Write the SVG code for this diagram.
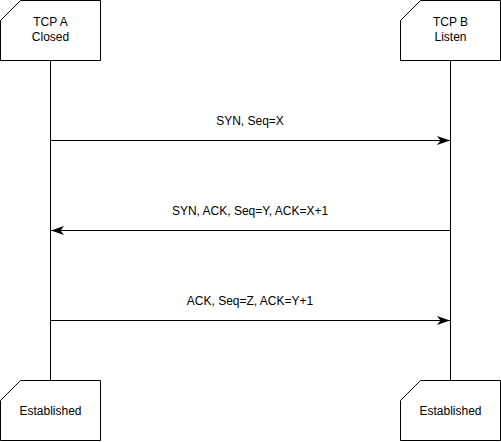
<svg xmlns="http://www.w3.org/2000/svg" width="501" height="442" viewBox="0 0 501 442">
<style>
.card{fill:#fff;stroke:#000;stroke-width:1}
.t{font-family:"Liberation Sans",Arial,sans-serif;font-size:12px;fill:#000;text-anchor:middle}
.ln{stroke:#000;stroke-width:1;fill:none}
</style>
<defs>
<marker id="ah" markerWidth="14" markerHeight="12" viewBox="0 0 14 12" refX="13" refY="6" orient="auto" markerUnits="userSpaceOnUse">
<path d="M0,1.5 L13,6 L0,10.5 L3.5,6 Z" fill="#000"/>
</marker>
</defs>
<g id="lifelines">
<line class="ln" x1="50.5" y1="60" x2="50.5" y2="380"/>
<line class="ln" x1="450.5" y1="60" x2="450.5" y2="380"/>
</g>
<g id="tcpA">
<path class="card" d="M20.5,0.5 H100.5 V60.5 H0.5 V20.5 Z"/>
<text class="t" x="50.5" y="26">TCP A</text>
<text class="t" x="50.5" y="41">Closed</text>
</g>
<g id="tcpB">
<path class="card" d="M420.5,0.5 H500.5 V60.5 H400.5 V20.5 Z"/>
<text class="t" x="450.5" y="26">TCP B</text>
<text class="t" x="450.5" y="41">Listen</text>
</g>
<g id="estA">
<path class="card" d="M20.5,380.5 H100.5 V440.5 H0.5 V400.5 Z"/>
<text class="t" x="50.5" y="415">Established</text>
</g>
<g id="estB">
<path class="card" d="M420.5,380.5 H500.5 V440.5 H400.5 V400.5 Z"/>
<text class="t" x="450.5" y="415">Established</text>
</g>
<g id="connectors">
<line class="ln" x1="50.5" y1="140.5" x2="450" y2="140.5" marker-end="url(#ah)"/>
<line class="ln" x1="450.5" y1="230.5" x2="51" y2="230.5" marker-end="url(#ah)"/>
<line class="ln" x1="50.5" y1="320.5" x2="450" y2="320.5" marker-end="url(#ah)"/>
<text class="t" x="250" y="125">SYN, Seq=X</text>
<text class="t" x="250" y="215">SYN, ACK, Seq=Y, ACK=X+1</text>
<text class="t" x="250" y="305">ACK, Seq=Z, ACK=Y+1</text>
</g>
</svg>
